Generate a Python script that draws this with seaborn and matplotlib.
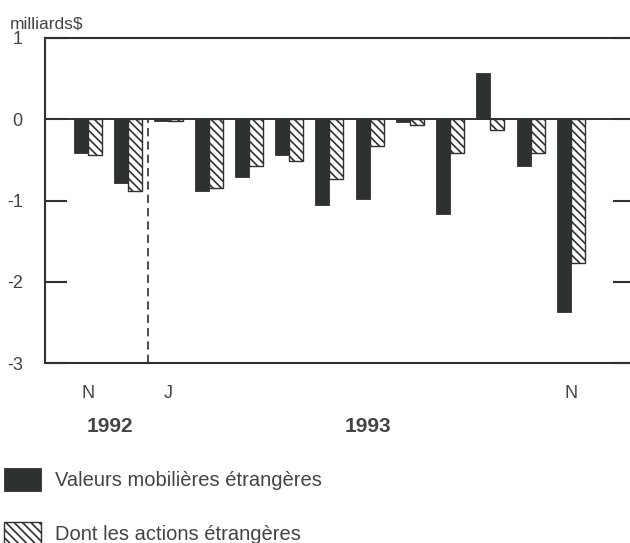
import matplotlib
matplotlib.use("Agg")
import matplotlib.pyplot as plt
import matplotlib.transforms as mtransforms
import seaborn as sns
import pandas as pd

# Monthly flows, Nov 1992 - Nov 1993 (billions of dollars)
months = ["N", "D", "J", "F", "M", "A", "M", "J", "J", "A", "S", "O", "N"]
month_labels = ["N", "", "J", "", "", "", "", "", "", "", "", "", "N"]
valeurs = [-0.41, -0.78, -0.02, -0.88, -0.71, -0.44, -1.05, -0.98, -0.03, -1.17, 0.57, -0.57, -2.37]
actions = [-0.44, -0.88, -0.02, -0.84, -0.57, -0.51, -0.74, -0.33, -0.07, -0.41, -0.13, -0.41, -1.77]
series_names = ["Valeurs mobilières étrangères", "Dont les actions étrangères"]
years = ["1992", "1993"]
year_pos = [0.55, 6.95]
y_ticks = [1, 0, -1, -2, -3]

ink = "#2e322f"
text_col = "#444444"
sns.set_theme(style="white")
plt.rcParams["font.family"] = ["Liberation Sans", "DejaVu Sans"]
plt.rcParams["hatch.linewidth"] = 1.2
plt.rcParams["hatch.color"] = ink

n = len(months)
df = pd.DataFrame({
    "pos": list(range(n)) * 2,
    "value": valeurs + actions,
    "series": [series_names[0]] * n + [series_names[1]] * n,
})

fig = plt.figure(figsize=(6.3, 5.43), dpi=100)
ax = fig.add_axes([45 / 630, 1 - 363 / 543, 585 / 630, 325 / 543])

sns.barplot(data=df, x="pos", y="value", hue="series", hue_order=series_names,
            palette={series_names[0]: ink, series_names[1]: "white"},
            width=0.7, saturation=1, ax=ax, legend=False)

for p in ax.containers[0]:
    p.set_edgecolor(ink)
    p.set_linewidth(0.6)
for p in ax.containers[1]:
    p.set_hatch("\\\\\\\\")
    p.set_edgecolor(ink)
    p.set_linewidth(1.0)

ax.axhline(0, color=ink, lw=1.4, zorder=1)
ax.vlines(1.5, -3, 0, colors=ink, linestyles=(0, (5, 3)), lw=1.2)

ax.set_xlim(-1.068, 13.47)
ax.set_ylim(-3, 1)
ax.set_xticks(range(n))
ax.set_xticklabels(month_labels)
ax.set_yticks(y_ticks)
ax.set_yticklabels([str(t) for t in y_ticks])
ax.set_xlabel("")
ax.set_ylabel("")

for s in ["left", "top", "bottom"]:
    ax.spines[s].set_visible(True)
    ax.spines[s].set_color(ink)
    ax.spines[s].set_linewidth(1.5)
ax.spines["right"].set_visible(False)

ax.tick_params(axis="x", length=0, pad=16, labelsize=13, labelcolor=text_col)
ax.tick_params(axis="y", direction="in", length=16, width=1.5, color=ink,
               left=True, right=True, pad=16, labelsize=13, labelcolor=text_col)
# shorter inward ticks on the right-hand side
for t in ax.yaxis.get_major_ticks():
    t.tick2line.set_markersize(12.5)

trans = mtransforms.blended_transform_factory(ax.transData, fig.transFigure)
for yr, xp in zip(years, year_pos):
    ax.text(xp, 1 - 427 / 543, yr, transform=trans, ha="center", va="center",
            fontsize=15, fontweight="bold", color=text_col)

fig.text(10 / 630, 1 - 29 / 543, "milliards$", ha="left", va="baseline",
         fontsize=12.5, color=text_col)

fig.legend(handles=[ax.containers[0], ax.containers[1]], labels=series_names,
           loc="upper left", bbox_to_anchor=(4 / 630, 1 - 468 / 543),
           frameon=False, fontsize=14.5, labelcolor=text_col,
           handlelength=1.85, handleheight=1.35, handletextpad=0.7,
           labelspacing=1.55, borderpad=0, borderaxespad=0)

fig.savefig("out.png", dpi=100)
